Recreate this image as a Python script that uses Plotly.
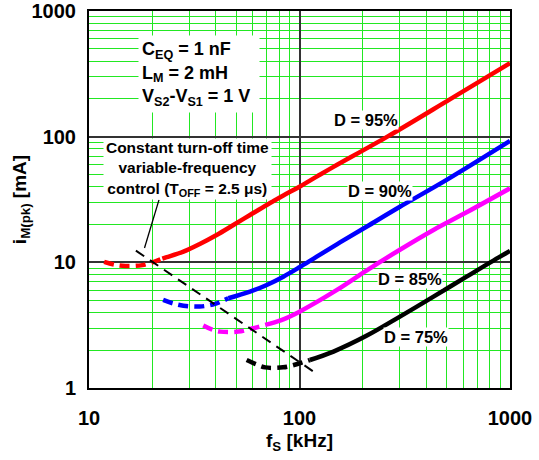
import numpy as np
import plotly.graph_objects as go

# ---------------- data ----------------
# D = 95 %
d95_dash_f = [11.8, 13.2, 14.9, 17.9, 20.5, 22.3]
d95_dash_i = [10.1, 9.6, 9.35, 9.5, 10.15, 10.7]
d95_solid_f = [22.3, 23.4, 28.1, 33.6, 40.4, 48.5, 58.2, 69.9, 83.8, 100, 120.7, 145, 264, 520, 1000]
d95_solid_i = [10.7, 10.98, 12.17, 14.0, 16.5, 19.8, 23.8, 28.6, 34.0, 40.0, 48.1, 57.5, 101, 199, 385]

# D = 90 %
d90_dash_f = [22.5, 25, 28.1, 33.6, 39.7, 45.9]
d90_dash_i = [5.02, 4.72, 4.52, 4.45, 4.67, 5.18]
d90_solid_f = [45.9, 58.2, 69.9, 83.8, 100, 120.7, 155.7, 208, 300, 500, 1000]
d90_solid_i = [5.18, 5.85, 6.61, 7.69, 9.14, 11.1, 14.4, 19.2, 27.7, 45.3, 92.5]

# D = 85 %
d85_dash_f = [34.9, 38, 41.9, 51.2, 60.3, 68.7]
d85_dash_i = [3.14, 2.94, 2.81, 2.81, 2.99, 3.18]
d85_solid_f = [68.7, 82, 100, 150, 208, 300, 433, 622, 1000]
d85_solid_i = [3.18, 3.47, 4.05, 6.0, 8.6, 12.6, 18.1, 25.0, 38.8]

# D = 75 %
d75_dash_f = [56.1, 62, 68.7, 83.6, 98.7, 112]
d75_dash_i = [1.67, 1.55, 1.46, 1.46, 1.56, 1.67]
d75_solid_f = [112, 145, 208, 300, 433, 622, 897, 1000]
d75_solid_i = [1.67, 1.95, 2.6, 3.70, 5.33, 7.69, 11.1, 12.3]

# constant turn-off time boundary and pointer
toff_f = [16.7, 123]
toff_i = [12.4, 1.27]
pointer_f = [18.35, 21.5]
pointer_i = [13.0, 31.4]

# labels
d_labels = ["D = 95%", "D = 90%", "D = 85%", "D = 75%"]
d_label_f = [206, 241, 335, 358]
d_label_i = [134.6, 37.0, 7.38, 2.55]

x_ticks = [10, 100, 1000]
y_ticks = [1, 10, 100, 1000]

colors = ["#FF0000", "#0000FF", "#FF00FF", "#000000"]

FONT = "Liberation Sans, Arial, Helvetica, sans-serif"
GREEN = "#22E822"

fig = go.Figure()

series = [
    (d95_dash_f, d95_dash_i, d95_solid_f, d95_solid_i),
    (d90_dash_f, d90_dash_i, d90_solid_f, d90_solid_i),
    (d85_dash_f, d85_dash_i, d85_solid_f, d85_solid_i),
    (d75_dash_f, d75_dash_i, d75_solid_f, d75_solid_i),
]
for (df, di, sf, si), c in zip(series, colors):
    fig.add_trace(go.Scatter(x=df, y=di, mode="lines",
                             line=dict(color=c, width=4.5, dash="10px,6px", shape="spline"),
                             hoverinfo="skip"))
    fig.add_trace(go.Scatter(x=sf, y=si, mode="lines",
                             line=dict(color=c, width=4.5, shape="spline"),
                             hoverinfo="skip"))

fig.add_trace(go.Scatter(x=toff_f, y=toff_i, mode="lines",
                         line=dict(color="black", width=2, dash="10px,7px"),
                         hoverinfo="skip"))
fig.add_trace(go.Scatter(x=pointer_f, y=pointer_i, mode="lines",
                         line=dict(color="black", width=1.3),
                         hoverinfo="skip"))

for txt, fx, fy in zip(d_labels, d_label_f, d_label_i):
    fig.add_annotation(x=np.log10(fx), y=np.log10(fy), xref="x", yref="y",
                       text=txt, showarrow=False, bgcolor="white", borderpad=0,
                       font=dict(family=FONT, size=16.5, color="black", weight="bold"))

fig.add_annotation(xref="paper", yref="paper", x=(199 - 89) / 421, y=(388 - 74) / 377,
                   xanchor="center", yanchor="middle", align="left",
                   width=114, height=70, borderpad=3, bgcolor="white",
                   text="C<sub>EQ</sub> = 1 nF<br>L<sub>M</sub> = 2 mH<br>V<sub>S2</sub>-V<sub>S1</sub> = 1 V",
                   showarrow=False,
                   font=dict(family=FONT, size=18, color="black", weight="bold"))

fig.add_annotation(xref="paper", yref="paper", x=(187.5 - 89) / 421, y=(388 - 169) / 377,
                   xanchor="center", yanchor="middle", align="center",
                   width=165, height=58, borderpad=1, bgcolor="white",
                   text="Constant turn-off time<br>variable-frequency<br>control (T<sub>OFF</sub> = 2.5 μs)",
                   showarrow=False,
                   font=dict(family=FONT, size=15.5, color="black", weight="bold"))

axis_common = dict(
    type="log", automargin=False,
    showline=True, linecolor="black", linewidth=2, mirror=True,
    showgrid=True, gridcolor="#333333", gridwidth=1.5,
    ticks="", zeroline=False,
    tickfont=dict(family=FONT, size=20, color="black", weight="bold"),
    minor=dict(dtick="D1", showgrid=True, gridcolor=GREEN, gridwidth=1.3, ticks=""),
)

fig.update_xaxes(**axis_common, range=[1, 3], tickvals=x_ticks,
                 ticktext=[str(v) for v in x_ticks], ticklabelstandoff=11,
                 title=dict(text="f<sub>S</sub> [kHz]", standoff=6,
                            font=dict(family=FONT, size=19, color="black", weight="bold")))
fig.update_yaxes(**axis_common, range=[0, 3], tickvals=y_ticks,
                 ticktext=[str(v) for v in y_ticks], ticklabelstandoff=7,
                 title=dict(text="i<sub>M(pk)</sub> [mA]", standoff=0,
                            font=dict(family=FONT, size=19, color="black", weight="bold")))

fig.update_layout(
    width=539, height=460,
    margin=dict(l=89, r=29, t=11, b=72),
    paper_bgcolor="white", plot_bgcolor="white",
    showlegend=False,
    font=dict(family=FONT, color="black"),
)

fig.write_html("out.html")
